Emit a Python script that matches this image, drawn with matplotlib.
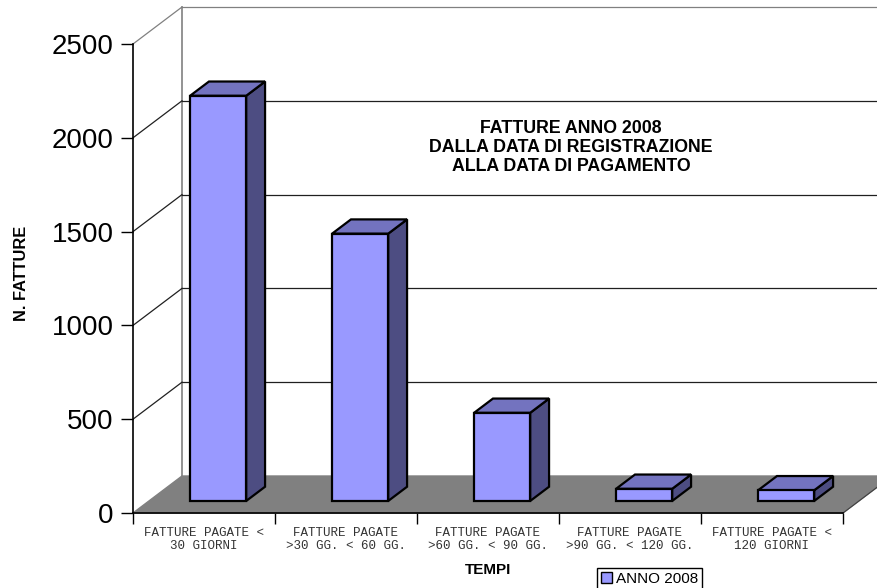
import matplotlib.pyplot as plt
from matplotlib.patches import Patch

# data
categories = ["FATTURE PAGATE <\n30 GIORNI",
              "FATTURE PAGATE\n>30 GG. < 60 GG.",
              "FATTURE PAGATE\n>60 GG. < 90 GG.",
              "FATTURE PAGATE\n>90 GG. < 120 GG.",
              "FATTURE PAGATE <\n120 GIORNI"]
values = [2160, 1425, 470, 65, 57]
yticks = [0, 500, 1000, 1500, 2000, 2500]
series_name = "ANNO 2008"
title_lines = ["FATTURE ANNO 2008", "DALLA DATA DI REGISTRAZIONE", "ALLA DATA DI PAGAMENTO"]

plt.rcParams['font.family'] = ['Liberation Sans', 'DejaVu Sans']

W, H = 878, 588
fig = plt.figure(figsize=(W / 100, H / 100), dpi=100)
fig.patch.set_facecolor('white')
ax = fig.add_axes([133 / W, 75 / H, 710 / W, 469 / H])
ax.set_xlim(0, len(categories))
ax.set_ylim(0, yticks[-1])
ax.set_facecolor('none')

# fake 3d depth offset (in data units)
DX = 49 / 142
DY = 37 * yticks[-1] / 469
n = len(categories)
top = yticks[-1]

# back wall + gridlines
ax.plot([DX, DX], [DY, top + DY], color='#808080', lw=1.2, clip_on=False, zorder=1)
for v in yticks[1:]:
    c = '#808080' if v == top else '#202020'
    ax.plot([DX, n + DX + 1], [v + DY, v + DY], color=c, lw=0.9, clip_on=False, zorder=1)
    ax.plot([0, DX], [v, v + DY], color=c, lw=0.9, clip_on=False, zorder=1)

# floor
ax.fill([0, n, n + DX, DX], [0, 0, DY, DY], color='#808080', clip_on=False, zorder=2)
ax.plot([n, n + DX], [0, DY], color='#404040', lw=0.8, clip_on=False, zorder=2)

# bars
d0, d1 = 0.325, 0.71
bw = 0.395
x0 = [i + 0.29 + d0 * DX for i in range(n)]
front = '#9999FF'
side = '#4D4D82'
topc = '#7373BF'
ax.bar(x0, values, width=bw, bottom=d0 * DY, align='edge', color=front,
       edgecolor='black', lw=1.6, zorder=5, clip_on=False)
ddx = (d1 - d0) * DX
ddy = (d1 - d0) * DY
for xl, v in zip(x0, values):
    xr = xl + bw
    yb = d0 * DY
    yt = v + d0 * DY
    ax.fill([xr, xr + ddx, xr + ddx, xr], [yb, yb + ddy, yt + ddy, yt],
            facecolor=side, edgecolor='black', lw=1.6, zorder=4, clip_on=False)
    ax.fill([xl, xr, xr + ddx, xl + ddx], [yt, yt, yt + ddy, yt + ddy],
            facecolor=topc, edgecolor='black', lw=1.6, zorder=4, clip_on=False)

# axes styling
for s in ['top', 'right']:
    ax.spines[s].set_visible(False)
ax.spines['left'].set_linewidth(1.2)
ax.spines['bottom'].set_linewidth(1.2)
ax.spines['left'].set_zorder(3)
ax.spines['bottom'].set_zorder(3)
ax.set_yticks(yticks)
ax.tick_params(axis='y', direction='out', length=9, width=1, labelsize=20, pad=5)
ax.set_xticks(range(n + 1))
ax.set_xticklabels([])
ax.tick_params(axis='x', which='major', direction='out', length=8, width=1)
ax.set_xticks([i + 0.5 for i in range(n)], minor=True)
ax.set_xticklabels(categories, minor=True, fontfamily='Liberation Mono', fontsize=9,
                   color='#333333')
ax.tick_params(axis='x', which='minor', length=0, pad=10)
for t in ax.get_xticklabels(minor=True):
    t.set_linespacing(1.1)

fig.text(22 / W, 1 - 273 / H, "N. FATTURE", rotation=90, ha='center', va='center',
         fontsize=11.8, fontweight='bold')
fig.text(488 / W, 1 - 570 / H, "TEMPI", ha='center', va='center',
         fontsize=11, fontweight='bold')
for k, line in enumerate(title_lines):
    fig.text(571 / W, 1 - (128.5 + 19 * k) / H, line, ha='center', va='center',
             fontsize=12.8, fontweight='bold')

fig.legend(handles=[Patch(facecolor=front, edgecolor='black', lw=1)], labels=[series_name],
           loc='upper left', bbox_to_anchor=(597 / W, 1 - 568 / H), fontsize=11,
           frameon=True, fancybox=False, edgecolor='black', framealpha=1,
           handlelength=0.7, handleheight=0.7, handletextpad=0.3,
           borderpad=0.25, borderaxespad=0)

fig.savefig("out.png", dpi=100)
